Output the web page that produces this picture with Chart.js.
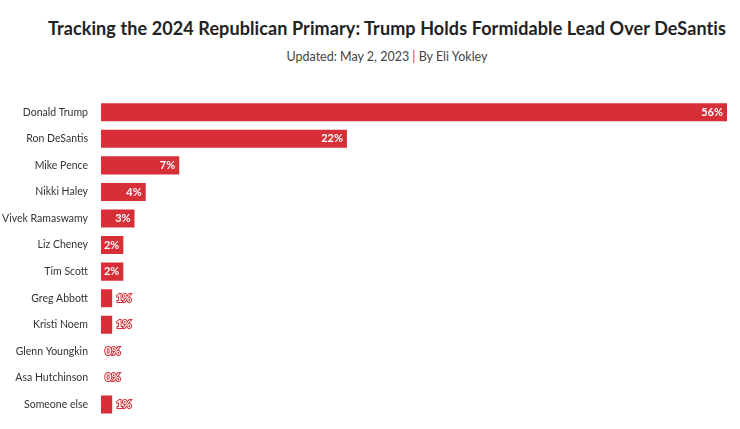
<!DOCTYPE html>
<html>
<head>
<meta charset="utf-8">
<script src="https://cdn.jsdelivr.net/npm/chart.js@4"></script>
<style>
  body { margin: 0; background: #fff; font-family: Lato, sans-serif; overflow: hidden; }
  #head { height: 78px; padding-left: 34px; text-align: center; color: #222; white-space: nowrap; }
  #head h1 { margin: 0; padding-top: 17px; font-size: 18px; font-weight: 700; letter-spacing: 0.1px; }
  #head p { margin: 10px 0 0; font-size: 12.5px; color: #444; }
  #wrap { width: 740px; height: 351px; }
</style>
</head>
<body>
<div id="head">
  <h1>Tracking the 2024 Republican Primary: Trump Holds Formidable Lead Over DeSantis</h1>
  <p>Updated: May 2, 2023 <span style="color:#d62f37">|</span> By Eli Yokley</p>
</div>
<div id="wrap"><canvas id="c"></canvas></div>
<script>
const candidates = ["Donald Trump", "Ron DeSantis", "Mike Pence", "Nikki Haley", "Vivek Ramaswamy",
  "Liz Cheney", "Tim Scott", "Greg Abbott", "Kristi Noem", "Glenn Youngkin", "Asa Hutchinson", "Someone else"];
const support = [56, 22, 7, 4, 3, 2, 2, 1, 1, 0, 0, 1];

const barLabels = {
  id: "barLabels",
  afterDatasetsDraw(chart) {
    const ctx = chart.ctx;
    const meta = chart.getDatasetMeta(0);
    ctx.save();
    ctx.font = "bold 11px Lato, sans-serif";
    ctx.textBaseline = "middle";
    meta.data.forEach((bar, i) => {
      const v = support[i];
      const text = v + "%";
      if (v >= 2) {
        ctx.textAlign = "right";
        ctx.fillStyle = "#fff";
        ctx.fillText(text, bar.x - 4, bar.y);
      } else {
        ctx.textAlign = "left";
        ctx.lineWidth = 2;
        ctx.strokeStyle = "#d62f37";
        ctx.strokeText(text, bar.x + 4, bar.y);
        ctx.fillStyle = "#fff";
        ctx.fillText(text, bar.x + 4, bar.y);
      }
    });
    ctx.restore();
  }
};

new Chart(document.getElementById("c"), {
  type: "bar",
  data: {
    labels: candidates,
    datasets: [{
      data: support,
      backgroundColor: "#d62f37",
      barPercentage: 0.68,
      categoryPercentage: 1
    }]
  },
  plugins: [barLabels],
  options: {
    indexAxis: "y",
    responsive: true,
    maintainAspectRatio: false,
    animation: false,
    layout: { padding: { top: 21, bottom: 0, right: 13, left: 0 } },
    plugins: { legend: { display: false }, tooltip: { enabled: false } },
    scales: {
      x: { display: false, min: 0, max: 56 },
      y: {
        afterFit(scale) { scale.width = 101; },
        grid: { display: false },
        border: { display: false },
        ticks: { color: "#333", font: { size: 10.5, family: "Lato, sans-serif" }, padding: 5 }
      }
    }
  }
});
</script>
</body>
</html>
